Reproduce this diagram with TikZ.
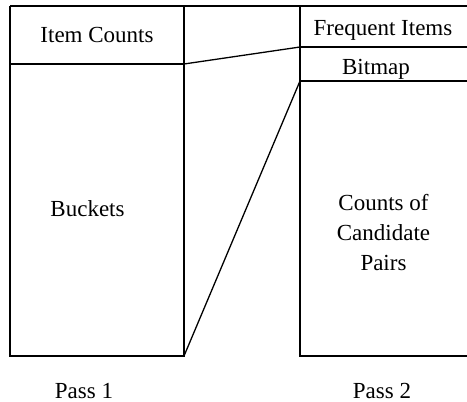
\documentclass[tikz,border=0pt]{standalone}
\usepackage{fontspec}
\setmainfont{Liberation Serif}
\begin{document}
\begin{tikzpicture}[x=1pt,y=-1pt,line width=1.3pt,
  lbl/.style={inner sep=0pt,font=\fontsize{23}{29.7}\selectfont,anchor=base},
  blk/.style={inner sep=0pt,font=\fontsize{23}{29.7}\selectfont,align=center}]
\useasboundingbox (0,0) rectangle (467,402);
% corner coordinates
\coordinate (ltl) at (10,6);
\coordinate (ltr) at (184,6);
\coordinate (lml) at (10,64);
\coordinate (lmr) at (184,64);
\coordinate (lbl) at (10,356);
\coordinate (lbr) at (184,356);
\coordinate (rtl) at (300,6);
\coordinate (rtr) at (467,6);
\coordinate (rfl) at (300,47);
\coordinate (rfr) at (467,47);
\coordinate (rbl) at (300,81);
\coordinate (rbr) at (467,81);
\coordinate (rdl) at (300,356);
\coordinate (rdr) at (467,356);
% pass 1 memory
\draw (ltl) -- (rtr);
\draw (ltr) -- (lbr) -- (lbl) -- (ltl);
\draw (lml) -- (lmr);
% pass 2 memory
\draw (rtl) -- (rdl) -- (rdr);
\draw (rfl) -- (rfr);
\draw (rbl) -- (rbr);
% connectors
\draw (lmr) -- (rfl);
\draw (lbr) -- (rbl);
% labels
\node[lbl] (itemcounts) at (97,42.3) {Item Counts};
\node[lbl] (buckets) at (87.5,216) {Buckets};
\node[lbl] (freq) at (383,35.7) {Frequent Items};
\node[lbl] (bitmap) at (376,74) {Bitmap};
\node[blk] (pairs) at (383.5,232.5) {Counts of\\Candidate\\Pairs};
\node[lbl] (pass1) at (84,398) {Pass 1};
\node[lbl] (pass2) at (382,398) {Pass 2};
\end{tikzpicture}
\end{document}
